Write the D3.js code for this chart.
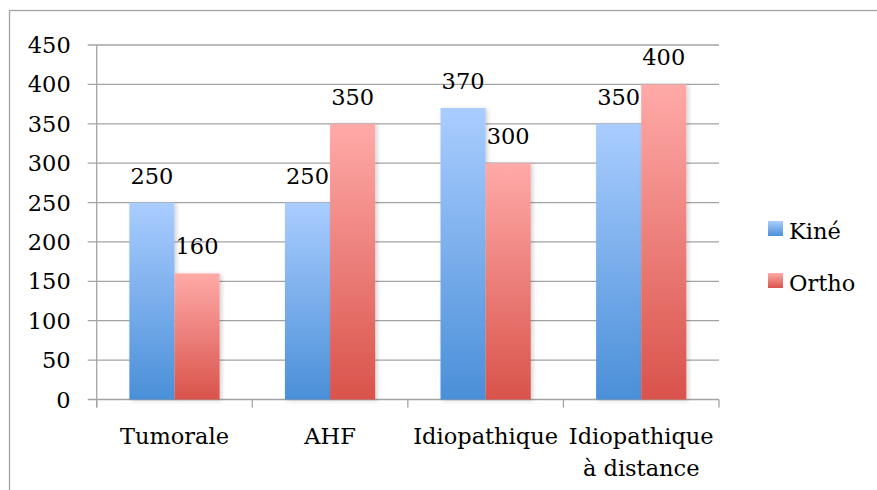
<!DOCTYPE html>
<html>
<head>
<meta charset="utf-8">
<script src="https://cdn.jsdelivr.net/npm/d3@7"></script>
<style>
  body { margin: 0; background: #fff; }
  svg { display: block; font-family: "DejaVu Serif", serif; }
</style>
</head>
<body>
<svg id="chart"></svg>
<script>
// ====== data ======
const categories = [["Tumorale"], ["AHF"], ["Idiopathique"], ["Idiopathique", "à distance"]];
const seriesNames = ["Kiné", "Ortho"];
const kine = [250, 250, 370, 350];
const ortho = [160, 350, 300, 400];
const yTicks = [0, 50, 100, 150, 200, 250, 300, 350, 400, 450];

// ====== setup ======
const width = 877, height = 490;
const margin = { top: 45, right: 158, bottom: 90.5, left: 96.7 };
const innerW = width - margin.left - margin.right;
const innerH = height - margin.top - margin.bottom;
const gridColor = "#a3a3a3";
const fs = 22.5;

const svg = d3.select("#chart").attr("width", width).attr("height", height);

// outer frame (runs off the right / bottom edges)
svg.append("rect")
  .attr("x", 9.5).attr("y", 10.5)
  .attr("width", width + 10).attr("height", height + 10)
  .attr("fill", "none").attr("stroke", gridColor).attr("stroke-width", 1.3);

const defs = svg.append("defs");
const gradColors = [["#aacdff", "#4a8fd8"], ["#ffaaa8", "#d9534b"]];
gradColors.forEach((c, i) => {
  const g = defs.append("linearGradient").attr("id", "grad" + i)
    .attr("x1", 0).attr("y1", 0).attr("x2", 0).attr("y2", 1);
  g.append("stop").attr("offset", "0%").attr("stop-color", c[0]);
  g.append("stop").attr("offset", "100%").attr("stop-color", c[1]);
});
const shadow = defs.append("filter").attr("id", "shadow")
  .attr("x", "-20%").attr("y", "-5%").attr("width", "150%").attr("height", "115%");
shadow.append("feDropShadow").attr("dx", 2).attr("dy", 1).attr("stdDeviation", 2)
  .attr("flood-color", "#000").attr("flood-opacity", 0.18);

const g = svg.append("g").attr("transform", `translate(${margin.left},${margin.top})`);

const x = d3.scaleBand().domain(d3.range(categories.length)).range([0, innerW]).padding(0);
const x1 = d3.scaleBand().domain(seriesNames).range([x.bandwidth() * 0.21, x.bandwidth() * 0.79]);
const y = d3.scaleLinear().domain([0, 450]).range([innerH, 0]);

// gridlines + y labels
g.selectAll(".grid").data(yTicks).enter().append("line")
  .attr("x1", -9).attr("x2", innerW)
  .attr("y1", d => y(d)).attr("y2", d => y(d))
  .attr("stroke", gridColor).attr("stroke-width", 1.3);

g.selectAll(".ylab").data(yTicks).enter().append("text")
  .attr("x", -26).attr("y", d => y(d)).attr("dy", "0.36em")
  .attr("text-anchor", "end").attr("font-size", fs).attr("fill", "#000")
  .text(d => d);

// y axis line
g.append("line").attr("x1", 0).attr("x2", 0).attr("y1", 0).attr("y2", innerH + 8)
  .attr("stroke", gridColor).attr("stroke-width", 1.3);

// category tick marks
g.selectAll(".xtick").data(d3.range(categories.length + 1)).enter().append("line")
  .attr("x1", d => d * x.bandwidth()).attr("x2", d => d * x.bandwidth())
  .attr("y1", innerH).attr("y2", innerH + 8)
  .attr("stroke", gridColor).attr("stroke-width", 1.3);

// bars
const data = [kine, ortho];
const groups = g.selectAll(".grp").data(categories).enter().append("g")
  .attr("transform", (d, i) => `translate(${x(i)},0)`);

groups.each(function(cat, ci) {
  const gg = d3.select(this);
  seriesNames.forEach((s, si) => {
    const v = data[si][ci];
    gg.append("rect")
      .attr("x", x1(s)).attr("y", y(v))
      .attr("width", x1.bandwidth()).attr("height", innerH - y(v))
      .attr("fill", `url(#grad${si})`)
      .attr("filter", "url(#shadow)");
  });
  seriesNames.forEach((s, si) => {
    const v = data[si][ci];
    gg.append("text")
      .attr("x", x1(s) + x1.bandwidth() / 2).attr("y", y(v) - 19)
      .attr("text-anchor", "middle").attr("font-size", fs).attr("fill", "#000")
      .text(v);
  });
  // category label
  const t = gg.append("text").attr("text-anchor", "middle").attr("font-size", fs).attr("fill", "#000");
  cat.forEach((line, li) => {
    t.append("tspan").attr("x", x.bandwidth() / 2).attr("y", innerH + 44 + li * 32).text(line);
  });
});

// legend
const legend = svg.append("g").attr("transform", "translate(768,221)");
seriesNames.forEach((s, i) => {
  const lg = legend.append("g").attr("transform", `translate(0,${i * 52})`);
  lg.append("rect").attr("width", 15).attr("height", 15).attr("fill", `url(#grad${i})`);
  lg.append("text").attr("x", 21).attr("y", 18).attr("font-size", fs).attr("fill", "#000").text(s);
});
</script>
</body>
</html>
